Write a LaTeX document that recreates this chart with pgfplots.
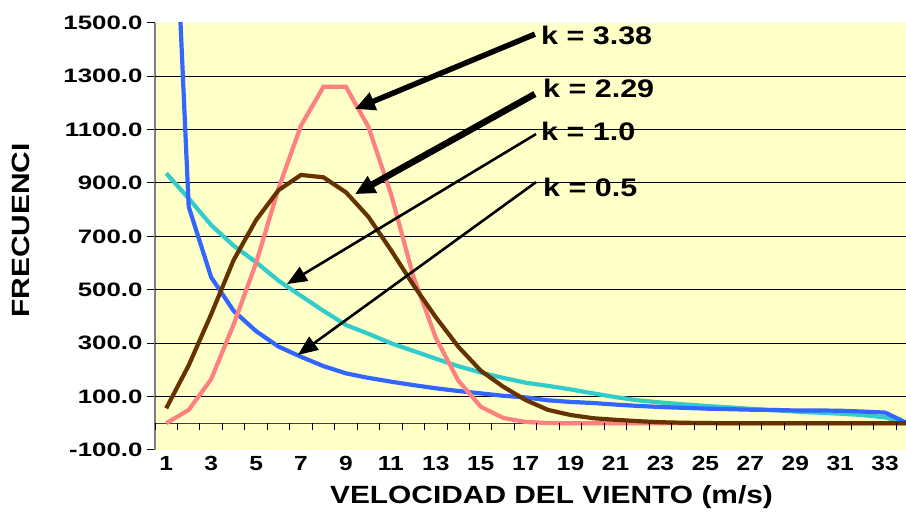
\documentclass[border=0pt]{standalone}
\usepackage{fontspec}
\setmainfont{Liberation Sans}[FakeStretch=1.2]
\newfontfamily\ytickfont{Liberation Sans}[FakeStretch=1.33]
\usepackage{pgfplots}
\usepackage{pgfplotstable}
\pgfplotsset{compat=1.18}
\usetikzlibrary{arrows.meta}
\definecolor{cpink}{RGB}{255,128,128}
\definecolor{cbrown}{RGB}{102,51,0}
\definecolor{ccyan}{RGB}{51,204,204}
\definecolor{cblue}{RGB}{51,102,255}
\definecolor{bgyellow}{RGB}{255,255,200}
\pgfplotstableread{
x pink brown cyan blue
1 0 56 936 2700
2 50 217 842 811
3 165 408 742 547
4 370 611 665 421
5 600 761 603 345
6 880 873 534 287
7 1115 930 477 249
8 1260 921 421 214
9 1260 865 368 187
10 1110 773 335 170
11 860 649 300 156
12 550 518 271 143
13 320 397 242 131
14 160 287 214 121
15 62 197 190 112
16 20 137 170 103
17 5 87 152 97
18 1 50 140 86
19 0 31 127 80
20 0 19 112 76
21 0 13 98 70
22 0 8 86 65
23 0 4 78 61
24 0 2 71 58
25 0 1 65 55
26 0 0 60 53
27 0 0 54 51
28 0 0 49 50
29 0 0 44 48
30 0 0 40 48
31 0 0 36 47
32 0 0 31 44
33 0 0 22 40
34 0 0 0 0
}\data
\begin{document}
\begin{tikzpicture}
\useasboundingbox (0,0) rectangle (906bp,513bp);
\begin{axis}[
  at={(155bp,63bp)}, anchor=south west,
  scale only axis, width=751bp, height=427.3bp,
  xmin=0.5, xmax=33.93, ymin=-100, ymax=1500,
  axis x line*=bottom, axis y line*=left,
  x axis line style={draw=none},
  y axis line style={draw=gray, line width=2bp},
  xtick={1,3,...,33},
  xticklabels={1,3,5,7,9,11,13,15,17,19,21,23,25,27,29,31,33},
  x tick style={draw=none},
  xticklabel style={yshift=5bp, font=\fontsize{20.5}{22}\selectfont\bfseries},
  ytick={-100,100,...,1500},
  yticklabels={-100.0,100.0,300.0,500.0,700.0,900.0,1100.0,1300.0,1500.0},
  y tick style={black, line width=1bp},
  yticklabel style={xshift=-1bp, font=\fontsize{19.5}{22}\ytickfont\bfseries},
  tick align=outside, major tick length=8bp,
  extra y ticks={100,300,...,1300}, extra y tick labels={},
  extra y tick style={grid=major, major tick length=0pt},
  major grid style={black, line width=0.9bp},
  axis background/.style={fill=bgyellow},
  clip=true,
]
\draw[black!75, line width=1.3bp] (axis cs:0.5,0) -- (axis cs:34,0);
\addplot[ccyan, line width=4.2bp] table[x=x, y=cyan] {\data};
\addplot[cblue, line width=4.2bp] table[x=x, y=blue] {\data};
\addplot[cpink, line width=4.2bp] table[x=x, y=pink] {\data};
\addplot[cbrown, line width=4.2bp] table[x=x, y=brown] {\data};
\draw[line width=5.5bp, -{Triangle[length=20bp,width=18bp]}] (axis cs:17.41,1457) -- (axis cs:9.40,1177);
\draw[line width=6.5bp, -{Triangle[length=20bp,width=18bp]}] (axis cs:17.41,1233) -- (axis cs:9.40,858);
\draw[line width=2.6bp, -{Triangle[length=20bp,width=16bp]}] (axis cs:17.46,1083) -- (axis cs:6.37,521);
\draw[line width=2.6bp, -{Triangle[length=20bp,width=16bp]}] (axis cs:17.46,903) -- (axis cs:6.86,256);
\node[anchor=west, inner sep=0pt, font=\fontsize{25.5}{28}\selectfont\bfseries] at (axis cs:17.68,1454) {k = 3.38};
\node[anchor=west, inner sep=0pt, font=\fontsize{25.5}{28}\selectfont\bfseries] at (axis cs:17.77,1255) {k = 2.29};
\node[anchor=west, inner sep=0pt, font=\fontsize{25.5}{28}\selectfont\bfseries] at (axis cs:17.68,1094) {k = 1.0};
\node[anchor=west, inner sep=0pt, font=\fontsize{25.5}{28}\selectfont\bfseries] at (axis cs:17.77,885) {k = 0.5};
\end{axis}
\begin{axis}[
  at={(155bp,63bp)}, anchor=south west,
  scale only axis, width=751bp, height=427.3bp,
  xmin=0.5, xmax=33.93, ymin=-100, ymax=1500,
  axis x line=middle, axis y line=none,
  x axis line style={draw=none},
  xtick={0.5,1.5,...,33.5}, xticklabels={},
  ytick=\empty,
  tick align=center, major tick length=7bp,
  x tick style={black, line width=1bp, yshift=-3.5bp},
]
\end{axis}
\node[anchor=center, font=\fontsize{25}{28}\selectfont\bfseries] at (551.5bp,16bp) {VELOCIDAD DEL VIENTO (m/s)};
\begin{scope}
\clip (0,0) rectangle (100bp,368bp);
\node[rotate=90, anchor=center, font=\fontsize{25}{28}\selectfont\bfseries] at (21bp,293.5bp) {FRECUENCIA};
\end{scope}
\end{tikzpicture}
\end{document}
